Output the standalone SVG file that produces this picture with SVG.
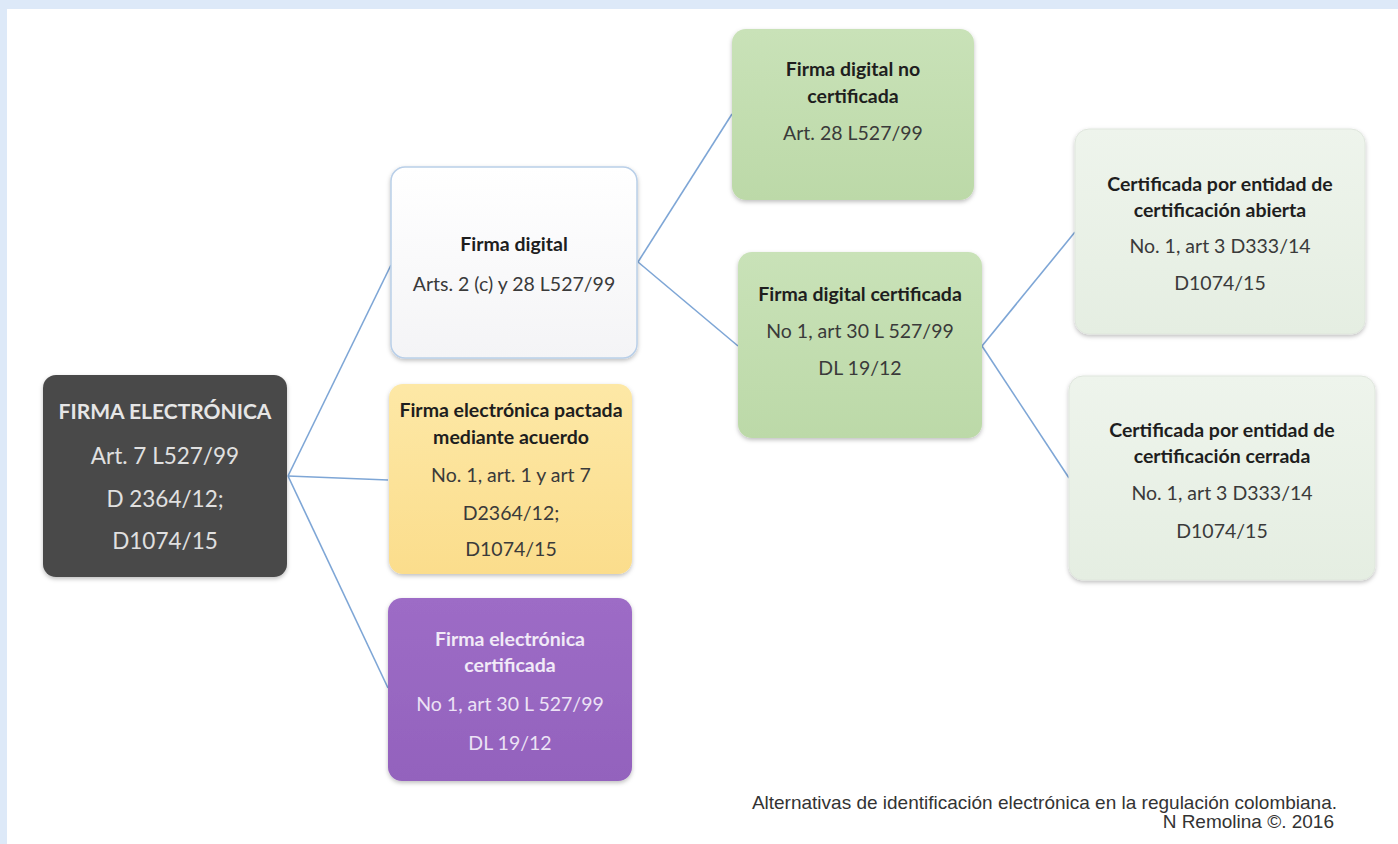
<svg xmlns="http://www.w3.org/2000/svg" width="1398" height="844" viewBox="0 0 1398 844">
<defs>
<style>
text{font-family:Lato,"Open Sans","Liberation Sans",sans-serif;text-anchor:middle}
.b{font-weight:bold;font-size:19.5px;fill:#1e1e1e}
.r{font-size:19.5px;fill:#3a3a3a}
.rootb{font-weight:bold;font-size:21px;fill:#e6e6e6}
.rootr{font-size:22.5px;fill:#e0e0e0}
.pb{font-weight:bold;font-size:19.5px;fill:#f1eaf7}
.pr{font-size:19.5px;fill:#ece2f5}
.conn line{stroke:#7ea6d6;stroke-width:1.6}
.foot{font-family:"Liberation Sans",Arial,sans-serif;font-size:19px;fill:#333;text-anchor:end}
</style>
<filter id="sh" x="-10%" y="-10%" width="120%" height="125%">
<feDropShadow dx="0" dy="2" stdDeviation="2" flood-color="#000" flood-opacity="0.25"/>
</filter>
<linearGradient id="gW" x1="0" y1="0" x2="0" y2="1"><stop offset="0" stop-color="#ffffff"/><stop offset="1" stop-color="#f4f4f6"/></linearGradient>
<linearGradient id="gY" x1="0" y1="0" x2="0" y2="1"><stop offset="0" stop-color="#fde8a6"/><stop offset="1" stop-color="#fbdd8c"/></linearGradient>
<linearGradient id="gP" x1="0" y1="0" x2="0" y2="1"><stop offset="0" stop-color="#9d6cc6"/><stop offset="1" stop-color="#9362bd"/></linearGradient>
<linearGradient id="gG" x1="0" y1="0" x2="0" y2="1"><stop offset="0" stop-color="#c9e2b8"/><stop offset="1" stop-color="#bcd9a8"/></linearGradient>
<linearGradient id="gL" x1="0" y1="0" x2="0" y2="1"><stop offset="0" stop-color="#eef4ec"/><stop offset="1" stop-color="#e5eee2"/></linearGradient>
</defs>
<rect x="0" y="0" width="1398" height="844" fill="#ffffff"/>
<rect x="0" y="0" width="1398" height="9" fill="#dde9f8"/>
<rect x="0" y="0" width="7" height="844" fill="#dde9f8"/>

<g id="connectors" class="conn">
<line x1="288" y1="476" x2="391" y2="265"/>
<line x1="288" y1="476" x2="388" y2="480"/>
<line x1="288" y1="476" x2="388" y2="688"/>
<line x1="638" y1="262" x2="732" y2="114"/>
<line x1="638" y1="262" x2="738" y2="346"/>
<line x1="982" y1="346" x2="1075" y2="232"/>
<line x1="982" y1="346" x2="1069" y2="478"/>
</g>

<g id="firma-electronica">
<rect x="43" y="375" width="244" height="202" rx="13" fill="#4a4a4a" filter="url(#sh)"/>
<text class="rootb" x="165" y="419">FIRMA ELECTRÓNICA</text>
<text class="rootr" x="165" y="464">Art. 7 L527/99</text>
<text class="rootr" x="165" y="507">D 2364/12;</text>
<text class="rootr" x="165" y="549">D1074/15</text>
</g>

<g id="firma-digital">
<rect x="391" y="167" width="246" height="191" rx="14" fill="url(#gW)" stroke="#b9cfe8" stroke-width="1.5" filter="url(#sh)"/>
<text class="b" x="514" y="251">Firma digital</text>
<text class="r" x="514" y="291">Arts. 2 (c) y 28 L527/99</text>
</g>

<g id="firma-pactada">
<rect x="389" y="384" width="243" height="190" rx="14" fill="url(#gY)" filter="url(#sh)"/>
<text class="b" x="511" y="417">Firma electrónica pactada</text>
<text class="b" x="511" y="444">mediante acuerdo</text>
<text class="r" x="511" y="482">No. 1, art. 1  y art 7</text>
<text class="r" x="511" y="520">D2364/12;</text>
<text class="r" x="511" y="556">D1074/15</text>
</g>

<g id="firma-certificada">
<rect x="388" y="598" width="244" height="183" rx="14" fill="url(#gP)" filter="url(#sh)"/>
<text class="pb" x="510" y="646">Firma electrónica</text>
<text class="pb" x="510" y="672">certificada</text>
<text class="pr" x="510" y="711">No 1, art 30 L 527/99</text>
<text class="pr" x="510" y="750">DL 19/12</text>
</g>

<g id="digital-no-certificada">
<rect x="732" y="29" width="242" height="171" rx="14" fill="url(#gG)" filter="url(#sh)"/>
<text class="b" x="853" y="76">Firma digital no</text>
<text class="b" x="853" y="103">certificada</text>
<text class="r" x="853" y="140">Art. 28 L527/99</text>
</g>

<g id="digital-certificada">
<rect x="738" y="252" width="244" height="186" rx="14" fill="url(#gG)" filter="url(#sh)"/>
<text class="b" x="860" y="301">Firma digital certificada</text>
<text class="r" x="860" y="338">No 1, art 30 L 527/99</text>
<text class="r" x="860" y="375">DL 19/12</text>
</g>

<g id="entidad-abierta">
<rect x="1075" y="129" width="290" height="205" rx="14" fill="url(#gL)" stroke="#dfe6dd" stroke-width="1" filter="url(#sh)"/>
<text class="b" x="1220" y="191">Certificada por entidad de</text>
<text class="b" x="1220" y="217">certificación abierta</text>
<text class="r" x="1220" y="253">No. 1, art 3 D333/14</text>
<text class="r" x="1220" y="290">D1074/15</text>
</g>

<g id="entidad-cerrada">
<rect x="1069" y="376" width="306" height="204" rx="14" fill="url(#gL)" stroke="#dfe6dd" stroke-width="1" filter="url(#sh)"/>
<text class="b" x="1222" y="437">Certificada por entidad de</text>
<text class="b" x="1222" y="463">certificación cerrada</text>
<text class="r" x="1222" y="500">No. 1, art 3 D333/14</text>
<text class="r" x="1222" y="538">D1074/15</text>
</g>

<g id="footer">
<text class="foot" x="1337" y="809">Alternativas de identificación electrónica en la regulación colombiana.</text>
<text class="foot" x="1334" y="828">N Remolina ©. 2016</text>
</g>
</svg>
